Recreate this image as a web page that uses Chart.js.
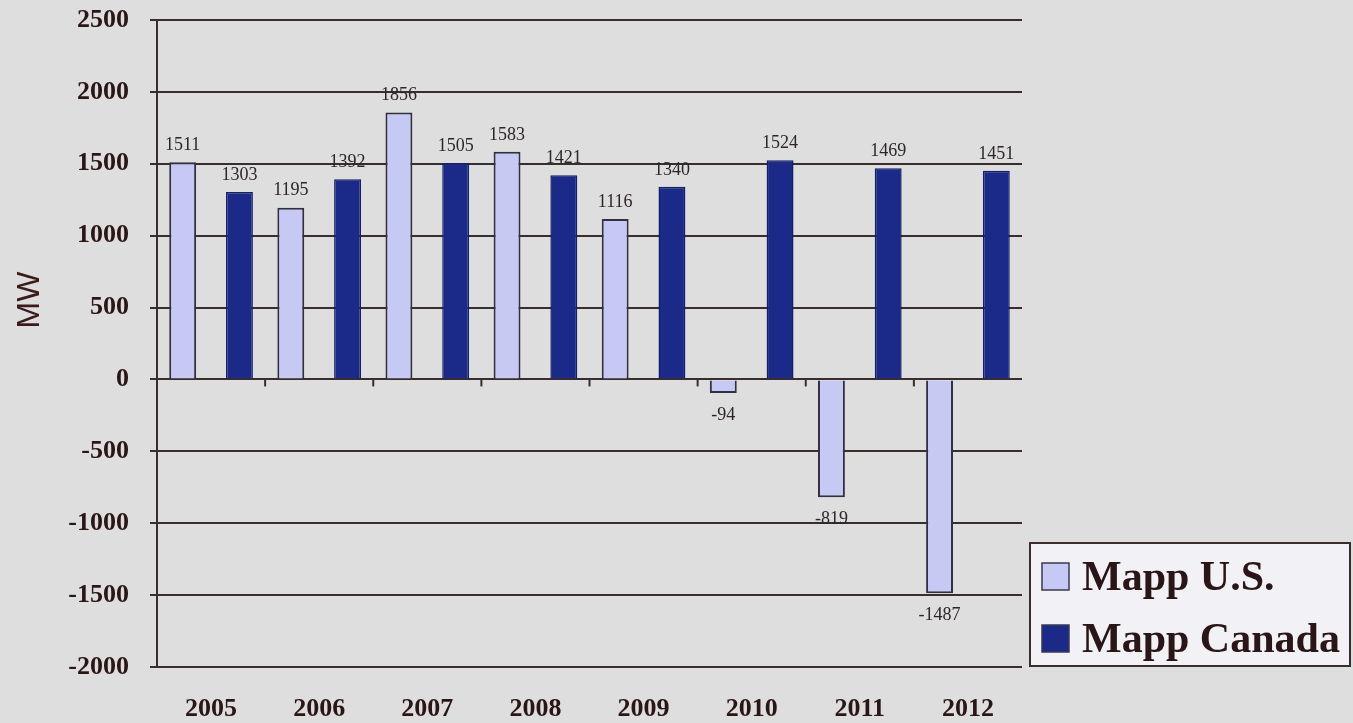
<!DOCTYPE html>
<html>
<head>
<meta charset="utf-8">
<script src="https://cdn.jsdelivr.net/npm/chart.js@4"></script>
<style>
  html, body { margin: 0; padding: 0; background: #dedede; }
  #wrap { width: 1353px; height: 723px; }
</style>
</head>
<body>
<div id="wrap"><canvas id="myChart"></canvas></div>
<script>
const years = ["2005", "2006", "2007", "2008", "2009", "2010", "2011", "2012"];
const mappUS = [1511, 1195, 1856, 1583, 1116, -94, -819, -1487];
const mappCanada = [1303, 1392, 1505, 1421, 1340, 1524, 1469, 1451];
const yTicks = [-2000, -1500, -1000, -500, 0, 500, 1000, 1500, 2000, 2500];

const ink = "#2a1616";
const gridInk = "#3a2d2d";
const serif = "'Liberation Serif', 'Times New Roman', serif";

// value labels above (or below) each bar
const barValues = {
    id: "barValues",
    afterDatasetsDraw(chart) {
        const c = chart.ctx;
        c.save();
        c.font = "18px " + serif;
        c.fillStyle = "#2e2626";
        c.textAlign = "center";
        c.textBaseline = "middle";
        chart.data.datasets.forEach((ds, i) => {
            chart.getDatasetMeta(i).data.forEach((bar, j) => {
                const v = ds.data[j];
                const y = v >= 0 ? bar.y - 17 : bar.y + 22;
                c.fillText(String(v), bar.x, y);
            });
        });
        c.restore();
    }
};

// small ticks on the zero line between the years, plus the MW title
const zeroTicks = {
    id: "zeroTicks",
    afterDraw(chart) {
        const c = chart.ctx;
        const x = chart.scales.x;
        const y0 = chart.scales.y.getPixelForValue(0);
        c.save();
        c.strokeStyle = gridInk;
        c.lineWidth = 2;
        for (let i = 1; i < years.length; i++) {
            const bx = (x.getPixelForValue(i - 1) + x.getPixelForValue(i)) / 2;
            c.beginPath();
            c.moveTo(bx, y0);
            c.lineTo(bx, y0 + 7);
            c.stroke();
        }
        c.translate(30, 300);
        c.rotate(-Math.PI / 2);
        c.font = "32px 'Liberation Sans', Arial, sans-serif";
        c.fillStyle = "#3a1a1a";
        c.textAlign = "center";
        c.textBaseline = "middle";
        c.fillText("MW", 0, 0);
        c.restore();
    }
};

// boxed legend at the lower right
const boxLegend = {
    id: "boxLegend",
    afterDraw(chart) {
        const c = chart.ctx;
        c.save();
        c.fillStyle = "#f2f2f6";
        c.fillRect(1030, 543, 320, 123);
        c.strokeStyle = gridInk;
        c.lineWidth = 2;
        c.strokeRect(1030, 543, 320, 123);
        const rows = [590, 652];
        chart.data.datasets.forEach((ds, i) => {
            const base = rows[i];
            c.fillStyle = ds.backgroundColor;
            c.fillRect(1042, base - 27, 27, 27);
            c.lineWidth = 1.5;
            c.strokeStyle = "#3a3a50";
            c.strokeRect(1042, base - 27, 27, 27);
            c.fillStyle = ink;
            c.font = "bold 42px " + serif;
            c.textAlign = "left";
            c.textBaseline = "alphabetic";
            c.fillText(ds.label, 1082, base);
        });
        c.restore();
    }
};

const data = {
    labels: years,
    datasets: [
        {
            label: "Mapp U.S.",
            data: mappUS,
            backgroundColor: "#c6c9f3",
            borderColor: "#303042",
            borderWidth: 2,
            categoryPercentage: 1.05,
            barPercentage: 0.474,
        },
        {
            label: "Mapp Canada",
            data: mappCanada,
            backgroundColor: "#1b2a88",
            borderColor: "#141f66",
            borderWidth: 1.5,
            categoryPercentage: 1.05,
            barPercentage: 0.474,
        },
    ],
};

const config = {
    type: "bar",
    data: data,
    options: {
        responsive: true,
        maintainAspectRatio: false,
        animation: false,
        layout: { padding: { top: 20, right: 331, bottom: 0, left: 0 } },
        plugins: {
            legend: { display: false },
            tooltip: { enabled: false },
        },
        scales: {
            x: {
                grid: { display: false },
                border: { display: false },
                ticks: {
                    color: ink,
                    padding: 19,
                    font: { family: serif, size: 26, weight: "bold" },
                },
                afterFit(scale) { scale.height = 56; },
            },
            y: {
                min: yTicks[0],
                max: yTicks[yTicks.length - 1],
                afterBuildTicks(scale) {
                    scale.ticks = yTicks.map(v => ({ value: v }));
                },
                grid: {
                    color: gridInk,
                    lineWidth: 2,
                    tickLength: 7,
                },
                border: { display: true, color: gridInk, width: 2 },
                ticks: {
                    color: ink,
                    padding: 21,
                    font: { family: serif, size: 26, weight: "bold" },
                    callback: v => String(v),
                },
                afterFit(scale) {
                    scale.width = 157;
                    scale.paddingTop = 0;
                    scale.paddingBottom = 0;
                },
            },
        },
    },
    plugins: [barValues, zeroTicks, boxLegend],
};

const myChart = new Chart(document.getElementById("myChart").getContext("2d"), config);
</script>
</body>
</html>
